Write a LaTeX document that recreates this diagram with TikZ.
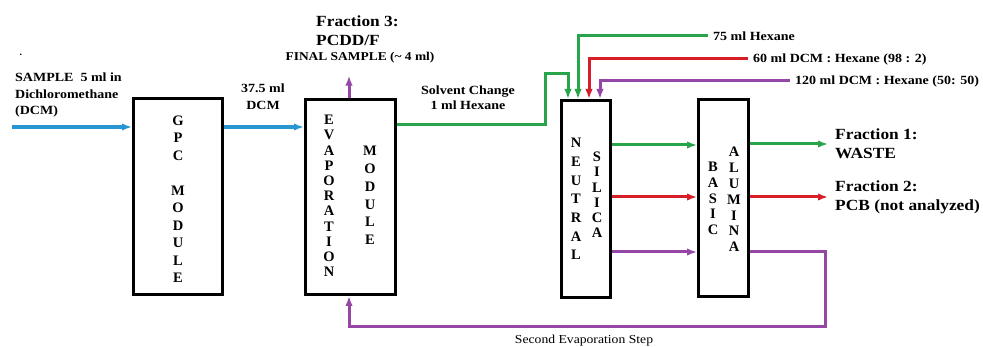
\documentclass[tikz,border=0pt]{standalone}
\usepackage{fontspec}
\setmainfont{Liberation Serif}
\newfontfamily\wf[FakeStretch=1.12]{Liberation Serif}
\usetikzlibrary{arrows.meta}
\definecolor{cblue}{RGB}{40,150,210}
\definecolor{cgreen}{RGB}{40,165,75}
\definecolor{cred}{RGB}{215,30,40}
\definecolor{cpurple}{RGB}{150,70,165}
\begin{document}
\begin{tikzpicture}[x=1pt,y=-1pt,
  box/.style={draw=black, line width=3pt, inner sep=0pt},
  lt/.style={font=\wf\bfseries\fontsize{12.5}{#1}\selectfont, inner sep=0pt, align=center},
  lt/.default=16,
  big/.style={font=\wf\bfseries\fontsize{15.5}{19}\selectfont, inner sep=0pt, align=left},
  letters/.style={font=\bfseries\fontsize{14.5}{#1}\selectfont, inner sep=0pt, align=center},
  flow/.style={line width=3pt, -{Latex[length=10pt,width=7.5pt]}}
]
\useasboundingbox (0,0) rectangle (983,347);
\fill[white] (0,0) rectangle (983,347);

% boxes
\node[box, minimum width=89pt, minimum height=196pt] (gpc) at (178,196.5) {};
\node[box, minimum width=90pt, minimum height=195pt] (evap) at (350.5,197) {};
\node[box, minimum width=49pt, minimum height=197pt] (silica) at (586,199) {};
\node[box, minimum width=50pt, minimum height=197pt] (alumina) at (723.5,198) {};

% stacked letters
\node[letters=17.5] (gpct) at (178,199) {G\\P\\C\\[17.5pt]M\\O\\D\\U\\L\\E};
\node[letters=15.2] (evt) at (329,196) {E\\V\\A\\P\\O\\R\\A\\T\\I\\O\\N};
\node[letters=17.8] (emt) at (370,195.5) {M\\O\\D\\U\\L\\E};
\node[letters=18.7] (nt) at (576,199) {N\\E\\U\\T\\R\\A\\L};
\node[letters=15.2] (st) at (597,195) {S\\I\\L\\I\\C\\A};
\node[letters=15.75] (bt) at (713,198.5) {B\\A\\S\\I\\C};
\node[letters=15.8] (at) at (734,199.5) {A\\L\\U\\M\\I\\N\\A};

% labels
\node[font=\bfseries\fontsize{10}{10}\selectfont, inner sep=0pt] (dot) at (21,55) {.};
\node[lt=16.5, align=left, anchor=west] (sample) at (15,95) {SAMPLE\ \ 5 ml in\\Dichloromethane\\(DCM)};
\node[lt=17] (dcm) at (263,96.5) {37.5 ml\\DCM};
\node[lt=15] (solv) at (468,97.5) {Solvent Change\\1 ml Hexane};
\node[big, anchor=west] (f3) at (316,30.5) {Fraction 3:\\PCDD/F};
\node[font=\wf\bfseries\fontsize{12}{14}\selectfont, inner sep=0pt] (fs) at (360,58) {FINAL SAMPLE (\textasciitilde\ 4 ml)};
\node[lt, anchor=west] (h75) at (713,36) {75 ml Hexane};
\node[lt, anchor=west] (d60) at (753,59) {60 ml DCM : Hexane (98 : 2)};
\node[lt, anchor=west] (d120) at (795,81) {120 ml DCM : Hexane (50: 50)};
\node[big, anchor=west] (f1) at (835,144) {Fraction 1:\\WASTE};
\node[big, anchor=west] (f2) at (835,197) {Fraction 2:\\PCB (not analyzed)};
\node[font=\wf\fontsize{12.2}{14}\selectfont, inner sep=0pt] (sec) at (584,341) {Second Evaporation Step};

% connectors
\coordinate (sIn) at (12,127);
\draw[flow, cblue, line width=3.5pt] (sIn) -- (sIn -| gpc.west);
\draw[flow, cblue, line width=3.5pt] (gpc.east |- 0,127) -- (evap.west |- 0,127);
\draw[flow, cgreen] (evap.east |- 0,125) -- (545,125) -- (545,74) -- (568,74) -- (silica.north -| 568,0);
\draw[flow, cgreen] ([xshift=-5pt]h75.west) -- (578,36) -- (silica.north -| 578,0);
\draw[flow, cred] ([xshift=-5pt]d60.west) -- (589,59) -- (silica.north -| 589,0);
\draw[flow, cpurple] ([xshift=-5pt]d120.west) -- (600,81) -- (silica.north -| 600,0);
\draw[flow, cpurple] (evap.north -| 349,0) -- ([yshift=-12pt]fs.south -| 349,0);
\draw[flow, cgreen] (silica.east |- 0,145) -- (alumina.west |- 0,145);
\draw[flow, cred] (silica.east |- 0,197) -- (alumina.west |- 0,197);
\draw[flow, cpurple] (silica.east |- 0,252) -- (alumina.west |- 0,252);
\draw[flow, cgreen] (alumina.east |- f1.west) -- ([xshift=-7pt]f1.west);
\draw[flow, cred] (alumina.east |- f2.west) -- ([xshift=-7pt]f2.west);
\draw[flow, cpurple] (alumina.east |- 0,252) -- (825,252) -- (825,327) -- (349,327) -- (evap.south -| 349,0);
\end{tikzpicture}
\end{document}
